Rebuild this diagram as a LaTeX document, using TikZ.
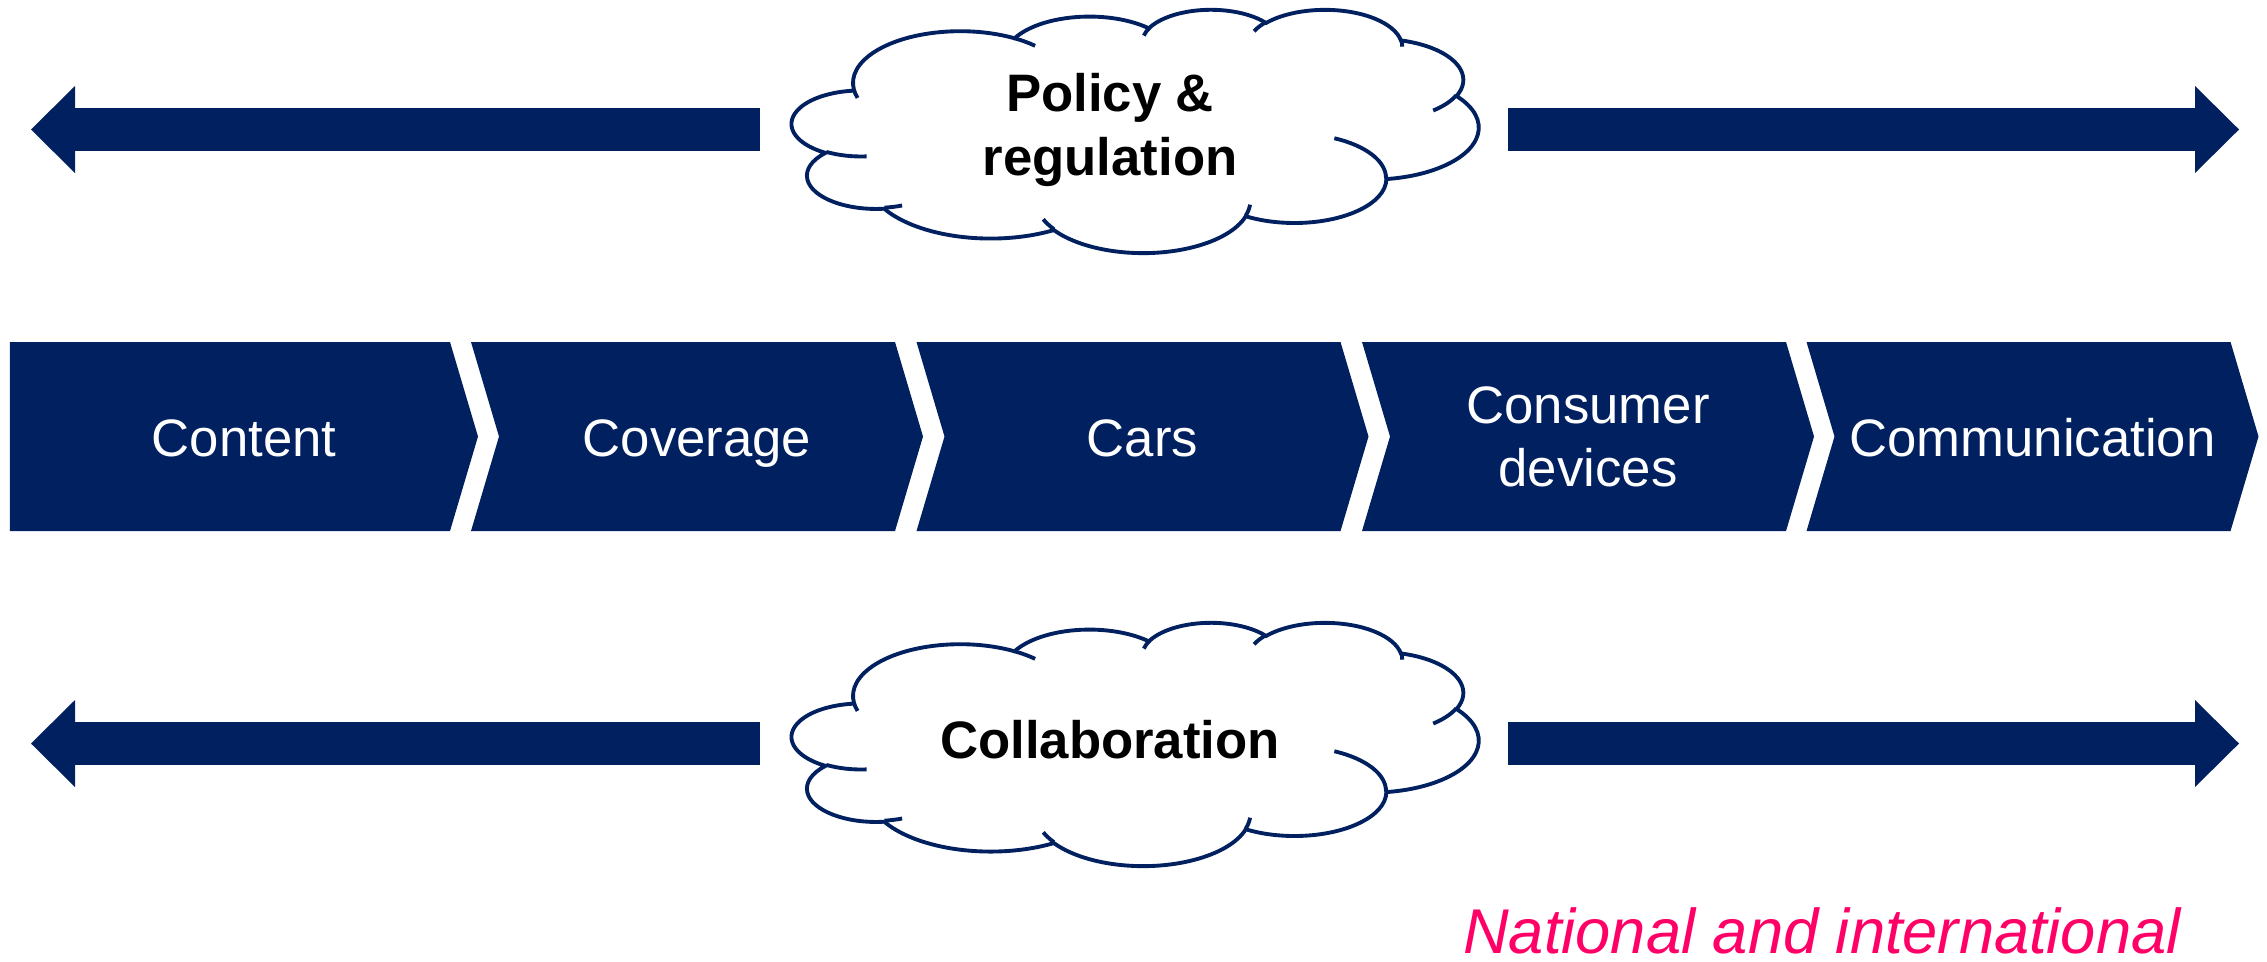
\documentclass[tikz,border=0pt]{standalone}
\usepackage{fontspec}
\setmainfont{Liberation Sans}
\usepackage{xcolor}
\usepackage{tikz}
\usetikzlibrary{arrows.meta}
\usetikzlibrary{shapes.symbols}

\definecolor{navy}{HTML}{002060}
\definecolor{pinkred}{HTML}{FF0066}

\tikzset{
	chevron/.style={shape=signal, signal to=east, signal pointer angle=147, fill=navy, text=white, minimum height=1.89cm, minimum width=4.52cm, inner sep=0pt, align=center, font=\fontsize{15}{18}\selectfont, text height=11.25pt, text depth=0pt},
	blockarrow/.style={draw=navy, line width=0.43cm, -{Triangle[length=0.44cm, width=0.87cm, line width=0pt]}},
	cloudtext/.style={font=\fontsize{15}{18}\selectfont\bfseries, align=center, inner sep=0pt},
	cloudline/.style={draw=navy, line width=1.1pt, x=0.1589cm, y=-0.0563cm},
	pptcloud/.pic={
		\draw [cloudline, fill=white] (3.9,14.37) foreach \rx/\ry/\st/\sw in {6.753/9.19/-190.487/123.781, 5.333/7.267/-144.102/89.945, 4.365/5.945/-145.808/99.723, 4.857/6.595/-130.986/117.242, 5.333/7.273/-78.709/109.027, 6.775/9.22/-46.267/130.269, 5.785/7.867/0.625/114.033, 6.752/9.215/22.452/115.173, 7.72/10.543/66.243/75.711, 4.36/5.918/-274.942/146.736, 4.345/5.945/-246.829/152.519}
			{arc [x radius=\rx, y radius=\ry, start angle={atan2(\rx*sin(\st),\ry*cos(\st))}, delta angle={mod(atan2(\rx*sin(\st+\sw),\ry*cos(\st+\sw))-atan2(\rx*sin(\st),\ry*cos(\st))+720,360)}]} -- cycle;
		\draw [cloudline] foreach \px/\py/\rx/\ry/\st/\sw in {4.693/26.177/4.345/5.945/86.742/26.43, 6.928/34.899/4.36/5.918/73.611/11.447, 16.478/39.09/6.752/9.215/137.624/14.081, 28.827/34.751/6.752/9.215/6.453/15.998, 34.129/22.954/5.785/7.867/-70.292/70.917, 41.798/15.354/5.333/7.273/30.318/27.752, 38.324/5.426/4.857/6.595/-13.744/14.859, 29.078/3.952/4.857/6.595/-149.181/18.195, 22.141/4.72/4.365/5.945/-163.494/17.686, 14/5.192/6.753/9.19/-66.707/12.319, 4.127/15.789/6.753/9.19/157.654/11.858}
			{(\px,\py) arc [x radius=\rx, y radius=\ry, start angle={atan2(\rx*sin(\st),\ry*cos(\st))}, delta angle={mod(atan2(\rx*sin(\st+\sw),\ry*cos(\st+\sw))-atan2(\rx*sin(\st),\ry*cos(\st))+720,360)}]};
	}
}

\begin{document}
\begin{tikzpicture}
	\useasboundingbox (0,0) rectangle (22.67,-9.61);
	\coordinate (pol l) at (7.60,-1.295);
	\coordinate (pol l end) at (0.31,-1.295);
	\coordinate (pol r) at (15.08,-1.295);
	\coordinate (pol r end) at (22.39,-1.295);
	\coordinate (col l) at (7.60,-7.435);
	\coordinate (col l end) at (0.31,-7.435);
	\coordinate (col r) at (15.08,-7.435);
	\coordinate (col r end) at (22.39,-7.435);
	\draw [blockarrow] (pol l) -- (pol l end);
	\draw [blockarrow] (pol r) -- (pol r end);
	\draw [blockarrow] (col l) -- (col l end);
	\draw [blockarrow] (col r) -- (col r end);
	\pic at (7.92,-0.09) {pptcloud};
	\pic at (7.92,-6.22) {pptcloud};
	\node [cloudtext] (policy) at (11.10,-1.30) {Policy \&\\regulation};
	\node [cloudtext, anchor=base] (collab) at (11.10,-7.58) {Collaboration};
	\node [chevron, minimum width=4.68cm] (content) at (2.30,-4.365) {\hspace*{0.28cm}Content};
	\node [chevron, signal from=west] (coverage) at (6.97,-4.365) {Coverage};
	\node [chevron, signal from=west] (cars) at (11.425,-4.365) {Cars};
	\node [chevron, signal from=west, text height=, text depth=] (devices) at (15.88,-4.365) {Consumer\\devices};
	\node [chevron, signal from=west] (comms) at (20.325,-4.365) {Communication};
	\node [anchor=base, text=pinkred, text depth=0pt, font=\fontsize{18}{21.6}\selectfont\itshape] (scale) at (18.22,-9.53) {National and international};
\end{tikzpicture}
\end{document}
